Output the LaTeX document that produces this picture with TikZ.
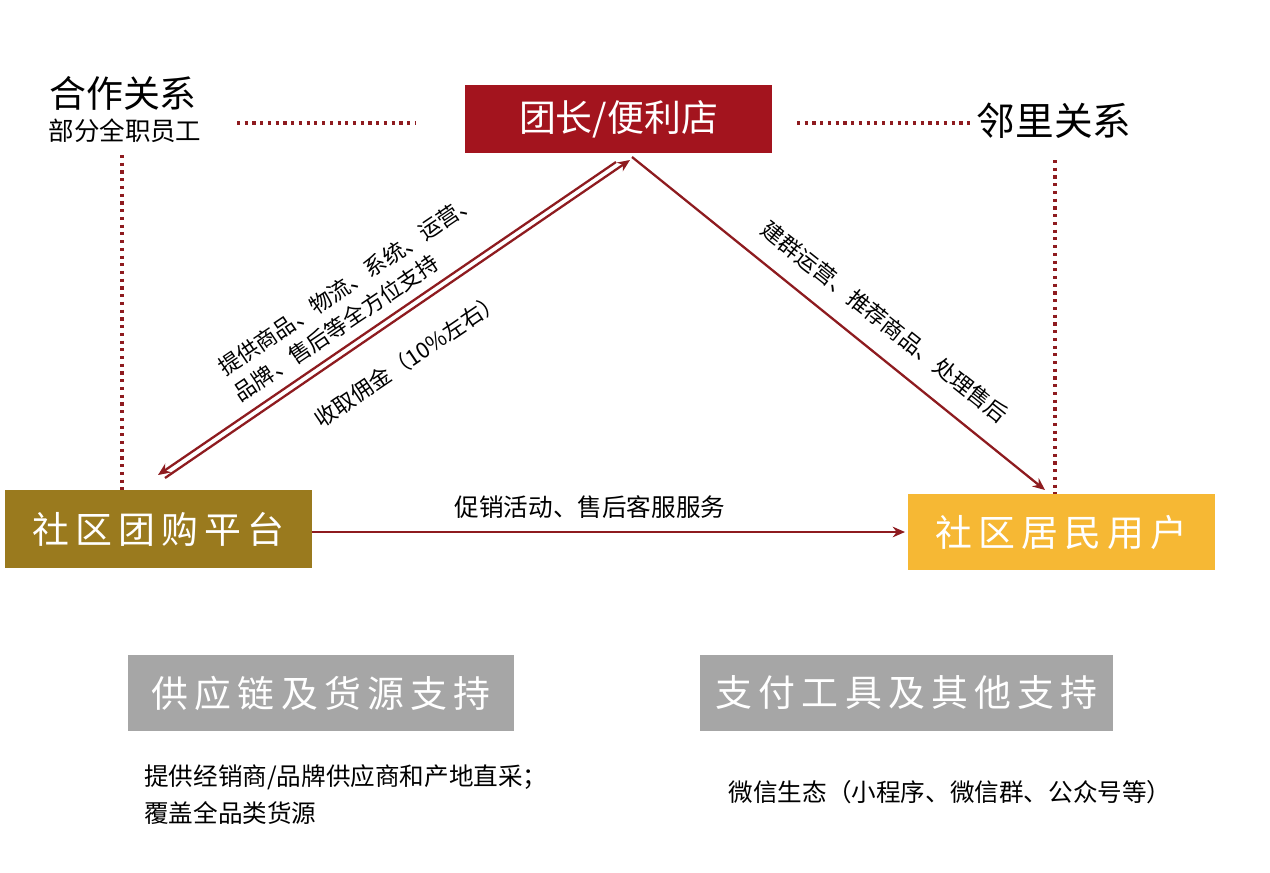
\documentclass[tikz,border=0pt]{standalone}
\usepackage{fontspec}
\newfontfamily\cjk{Noto Sans CJK SC}
\usetikzlibrary{arrows.meta}
\definecolor{dred}{HTML}{A3141E}
\definecolor{olive}{HTML}{9A7A1E}
\definecolor{gold}{HTML}{F6B834}
\definecolor{gbox}{HTML}{A6A6A6}
\definecolor{lred}{HTML}{8E1B1F}
\begin{document}
\begin{tikzpicture}[x=0.02cm,y=-0.02cm,font=\cjk,
 box/.style={draw=none,text=white,font=\cjk\fontsize{21}{24}\selectfont,inner sep=0},
 lab/.style={font=\cjk\fontsize{12.5}{15}\selectfont,text=black},
 blab/.style={font=\cjk\fontsize{14}{17}\selectfont,text=black},
 dot/.style={lred,line width=1.8pt,dash pattern=on 1.8pt off 2.6pt},
 arr/.style={lred,line width=1.3pt,-{Stealth[length=7pt,width=6pt]}}]
\useasboundingbox[fill=white] (0,0) rectangle (1270,872);
\fill[dred] (465,85) rectangle (772,153);
\node[box] (topt) at (618.5,119) {团长/便利店};
\fill[olive] (5,490) rectangle (312,568);
\node[box] (plat) at (158.5,529) {社\,区\,团\,购\,平\,台};
\fill[gold] (908,494) rectangle (1215,570);
\node[box] (user) at (1061.5,532) {社\,区\,居\,民\,用\,户};
\fill[gbox] (128,655) rectangle (514,731);
\node[box] (g1) at (321,693) {供\,应\,链\,及\,货\,源\,支\,持};
\fill[gbox] (700,655) rectangle (1113,731);
\node[box] (g2) at (906.5,693) {支\,付\,工\,具\,及\,其\,他\,支\,持};
\node[font=\cjk\fontsize{21}{24}\selectfont] (hz) at (123,93) {合作关系};
\node[font=\cjk\fontsize{14.5}{17}\selectfont] (bf) at (125,131) {部分全职员工};
\node[font=\cjk\fontsize{22}{26}\selectfont] (ll) at (1054,121) {邻里关系};
\coordinate (d1a) at (237,123); \coordinate (d1b) at (415,123);
\coordinate (d2a) at (797,123); \coordinate (d2b) at (972,123);
\coordinate (v1a) at (122,155); \coordinate (v1b) at (122,490);
\coordinate (v2a) at (1055,160); \coordinate (v2b) at (1055,494);
\draw[dot] (d1a)--(d1b); \draw[dot] (d2a)--(d2b);
\draw[dot] (v1a)--(v1b); \draw[dot] (v2a)--(v2b);
\coordinate (la1) at (165,478); \coordinate (la2) at (630,160);
\coordinate (lb1) at (616,162); \coordinate (lb2) at (158,475);
\draw[arr] (la1)--(la2);
\draw[arr] (lb1)--(lb2);
\coordinate (r1) at (632,157); \coordinate (r2) at (1045,490);
\draw[arr] (r1)--(r2);
\coordinate (h1) at (312,532); \coordinate (h2) at (905,532);
\draw[arr] (h1)--(h2);
\node[lab] (t1) at (348,284) [rotate=34] {提供商品、物流、系统、运营、};
\node[lab] (t2) at (336,328) [rotate=34] {品牌、售后等全方位支持};
\node[lab] (t3) at (408,360) [rotate=34] {收取佣金（10\%左右）};
\node[lab] (t4) at (885,322) [rotate=-38.5] {建群运营、推荐商品、处理售后};
\node[blab] (t5) at (590,507) {促销活动、售后客服服务};
\node[blab,anchor=west,align=left] (t6) at (138,795) {提供经销商/品牌供应商和产地直采；\\[4pt]覆盖全品类货源};
\node[blab] (t7) at (950,792) {微信生态（小程序、微信群、公众号等）};
\end{tikzpicture}
\end{document}
